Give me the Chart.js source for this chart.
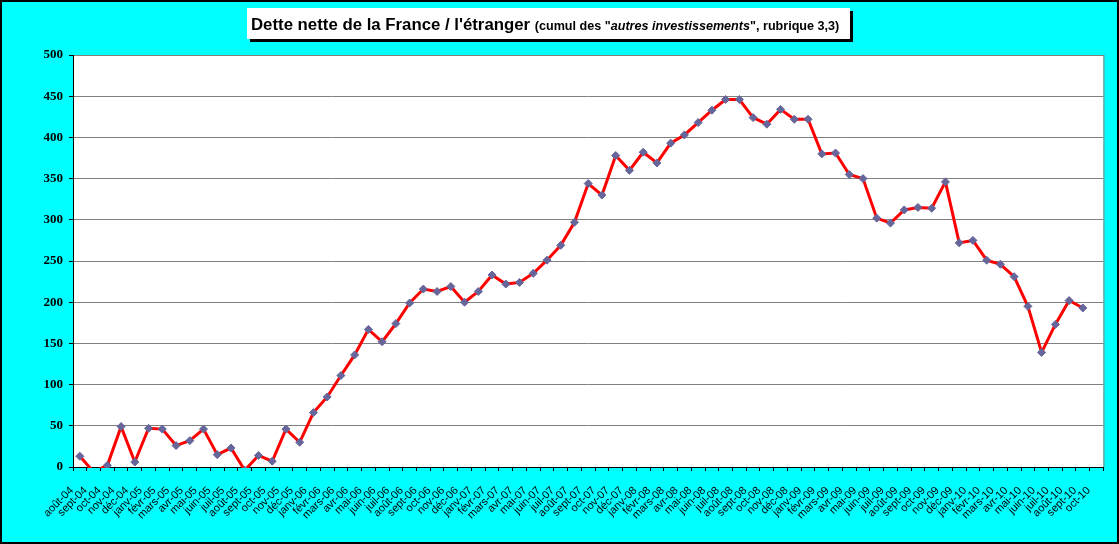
<!DOCTYPE html>
<html>
<head>
<meta charset="utf-8">
<script src="https://cdn.jsdelivr.net/npm/chart.js@4.4.1/dist/chart.umd.min.js"></script>
<style>
html, body { margin: 0; padding: 0; background: #00ffff; }
#wrap { width: 1119px; height: 544px; }
</style>
</head>
<body>
<div id="wrap"><canvas id="detteChart" width="1119" height="544"></canvas></div>
<script>
// Mois (août 2004 -> oct. 2010)
const mois = [
    'août-04', 'sept-04', 'oct-04', 'nov-04', 'déc-04',
    'janv-05', 'févr-05', 'mars-05', 'avr-05', 'mai-05', 'juin-05', 'juil-05', 'août-05', 'sept-05', 'oct-05', 'nov-05', 'déc-05',
    'janv-06', 'févr-06', 'mars-06', 'avr-06', 'mai-06', 'juin-06', 'juil-06', 'août-06', 'sept-06', 'oct-06', 'nov-06', 'déc-06',
    'janv-07', 'févr-07', 'mars-07', 'avr-07', 'mai-07', 'juin-07', 'juil-07', 'août-07', 'sept-07', 'oct-07', 'nov-07', 'déc-07',
    'janv-08', 'févr-08', 'mars-08', 'avr-08', 'mai-08', 'juin-08', 'juil-08', 'août-08', 'sept-08', 'oct-08', 'nov-08', 'déc-08',
    'janv-09', 'févr-09', 'mars-09', 'avr-09', 'mai-09', 'juin-09', 'juil-09', 'août-09', 'sept-09', 'oct-09', 'nov-09', 'déc-09',
    'janv-10', 'févr-10', 'mars-10', 'avr-10', 'mai-10', 'juin-10', 'juil-10', 'août-10', 'sept-10', 'oct-10'
];

// Dette nette (cumul des "autres investissements")
const detteNette = [
    13, -6, 2, 49, 6, 47, 46, 26, 32, 46, 15, 23, -4, 14, 7, 46, 30,
    66, 85, 111, 136, 167, 152, 174, 199, 216, 213, 219, 200,
    213, 233, 222, 224, 235, 251, 269, 297, 344, 330, 378, 360,
    382, 369, 393, 403, 418, 433, 446, 446, 424, 416, 434, 422,
    422, 380, 381, 355, 350, 302, 296, 312, 315, 314, 346, 272,
    275, 251, 246, 231, 195, 139, 173, 202, 193
];

// Graduations de l'axe vertical
const graduationsY = [0, 50, 100, 150, 200, 250, 300, 350, 400, 450, 500];

// Fond cyan, zone de tracé blanche, bordures
const fondPlugin = {
    id: 'fond',
    beforeDraw(chart) {
        const ctx = chart.ctx;
        const a = chart.chartArea;
        ctx.save();
        ctx.fillStyle = '#00ffff';
        ctx.fillRect(0, 0, chart.width, chart.height);
        ctx.fillStyle = '#ffffff';
        ctx.fillRect(a.left, a.top, a.right - a.left, a.bottom - a.top);
        ctx.strokeStyle = '#808080';
        ctx.lineWidth = 1;
        ctx.strokeRect(a.left + 0.5, a.top + 0.5, a.right - a.left, a.bottom - a.top);
        ctx.restore();
    },
    afterDraw(chart) {
        const ctx = chart.ctx;
        ctx.save();
        ctx.strokeStyle = '#000000';
        ctx.lineWidth = 2;
        ctx.strokeRect(1, 1, chart.width - 2, chart.height - 2);
        ctx.restore();
    }
};

// Titre encadré avec ombre
const titrePlugin = {
    id: 'titre',
    afterDraw(chart) {
        const ctx = chart.ctx;
        const morceaux = [
            { texte: "Dette nette de la France / l'étranger ", font: 'bold 16.8px "Liberation Sans", Arial, sans-serif' },
            { texte: '(cumul des "', font: 'bold 12.6px "Liberation Sans", Arial, sans-serif' },
            { texte: 'autres investissements', font: 'italic bold 12.6px "Liberation Sans", Arial, sans-serif' },
            { texte: '", rubrique 3,3)', font: 'bold 12.6px "Liberation Sans", Arial, sans-serif' }
        ];
        ctx.save();
        const x0 = 247, y0 = 8, w = 603, h = 31;
        ctx.fillStyle = '#000000';
        ctx.fillRect(x0 + 3, y0 + 3, w, h);
        ctx.fillStyle = '#ffffff';
        ctx.fillRect(x0, y0, w, h);
        ctx.fillStyle = '#000000';
        ctx.textBaseline = 'alphabetic';
        let x = x0 + 4;
        morceaux.forEach(m => {
            ctx.font = m.font;
            ctx.fillText(m.texte, x, y0 + 22);
            x += ctx.measureText(m.texte).width;
        });
        ctx.restore();
    }
};

const ctx = document.getElementById('detteChart').getContext('2d');
const detteChart = new Chart(ctx, {
    type: 'line',
    data: {
        labels: mois,
        datasets: [{
            label: 'Dette nette',
            data: detteNette,
            borderColor: '#ff0000',
            borderWidth: 3,
            tension: 0,
            pointStyle: 'rectRot',
            pointRadius: 4,
            pointBackgroundColor: '#66669a',
            pointBorderColor: '#66669a',
            pointBorderWidth: 1,
            clip: { left: 10, top: 10, right: 10, bottom: 1 }
        }]
    },
    options: {
        responsive: false,
        animation: false,
        devicePixelRatio: 1,
        layout: { padding: { left: 0, top: 55, right: 13, bottom: 0 } },
        plugins: {
            legend: { display: false },
            tooltip: { enabled: false }
        },
        scales: {
            x: {
                offset: true,
                afterFit(scale) { scale.height = 77; },
                grid: {
                    offset: true,
                    drawOnChartArea: false,
                    drawTicks: true,
                    tickLength: 4,
                    tickColor: '#000000'
                },
                border: { display: true, color: '#000000', width: 1 },
                ticks: {
                    autoSkip: false,
                    minRotation: 45,
                    maxRotation: 45,
                    padding: 13,
                    labelOffset: -8,
                    color: '#000000',
                    font: { family: '"Liberation Sans", Arial, sans-serif', size: 11 }
                }
            },
            y: {
                min: graduationsY[0],
                max: graduationsY[graduationsY.length - 1],
                afterFit(scale) { scale.width = 73; },
                grid: {
                    color: '#808080',
                    lineWidth: 1,
                    drawTicks: true,
                    tickLength: 4,
                    tickColor: '#000000'
                },
                border: { display: true, color: '#000000', width: 1 },
                ticks: {
                    stepSize: graduationsY[1] - graduationsY[0],
                    padding: 6,
                    color: '#000000',
                    font: { family: '"Liberation Serif", "Times New Roman", serif', size: 13, weight: 'bold' }
                }
            }
        }
    },
    plugins: [fondPlugin, titrePlugin]
});
</script>
</body>
</html>
